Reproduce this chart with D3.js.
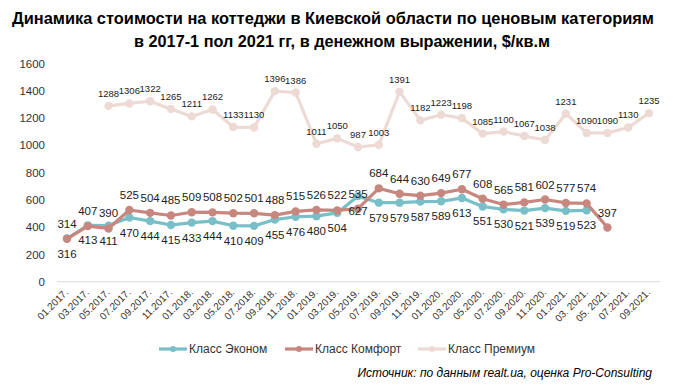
<!DOCTYPE html>
<html>
<head>
<meta charset="utf-8">
<script src="https://cdn.jsdelivr.net/npm/d3@7"></script>
<style>
  body { margin: 0; background: #fff; }
  text { font-family: "Liberation Sans", Arial, sans-serif; fill: #000; }
</style>
</head>
<body>
<script>
let categories = ["01.2017.","03.2017.","05.2017.","07.2017.","09.2017.","11.2017.",
    "01.2018.","03.2018.","05.2018.","07.2018.","09.2018.","11.2018.",
    "01.2019.","03.2019.","05.2019.","07.2019.","09.2019.","11.2019.",
    "01.2020.","03.2020.","05.2020.","07.2020.","09.2020.","11.2020.",
    "01.2021.","03. 2021.","05. 2021.","07.2021.","09.2021."];
// эконом: 01.2017 - 03.2021
let econom = [316,413,411,470,444,415,433,444,410,409,455,476,480,504,627,
    579,579,587,589,613,551,530,521,539,519,523];
// комфорт: 01.2017 - 05.2021
let comfort = [314,407,390,525,504,485,509,508,502,501,488,515,526,522,535,
    684,644,630,649,677,608,565,581,602,577,574,397];
// премиум: с 05.2017
let premiumStart = 2;
let premium = [1288,1306,1322,1265,1211,1262,1133,1130,1396,1386,1011,1050,987,1003,
    1391,1182,1223,1198,1085,1100,1067,1038,1231,1090,1090,1130,1235];
let yTicks = [0,200,400,600,800,1000,1200,1400,1600];
let seriesNames = ["Класс Эконом","Класс Комфорт","Класс Премиум"];
let colors = ["#78bfc7","#c7877f","#eedad4"];

let W = 678, H = 385;
let svg = d3.select("body").append("svg")
    .attr("width", W).attr("height", H);

let x = d3.scalePoint().domain(categories).range([67, 649]);
let y = d3.scaleLinear().domain([0, 1600]).range([281.7, 63.3]);

// заголовок
let title = svg.append("g").attr("font-weight", "bold");
title.append("text").attr("x", 12).attr("y", 24)
    .attr("font-size", 17)
    .style("font-family", "'Liberation Sans Narrow', 'Arial Narrow', 'Liberation Sans', sans-serif")
    .attr("textLength", 642).attr("lengthAdjust", "spacingAndGlyphs")
    .text("Динамика стоимости на коттеджи в Киевской области по ценовым категориям");
title.append("text").attr("x", 134).attr("y", 47)
    .attr("font-size", 17)
    .style("font-family", "'Liberation Sans Narrow', 'Arial Narrow', 'Liberation Sans', sans-serif")
    .attr("textLength", 416).attr("lengthAdjust", "spacingAndGlyphs")
    .text("в 2017-1 пол 2021 гг, в денежном выражении, $/кв.м");

// ось Y
svg.append("g").selectAll("text")
    .data(yTicks).enter().append("text")
    .attr("x", 45).attr("y", d => y(d) + 4.2)
    .attr("text-anchor", "end")
    .attr("font-size", 11.5)
    .style("fill", "#333")
    .text(d => d);

svg.append("line")
    .attr("x1", 57).attr("x2", 660)
    .attr("y1", y(0)).attr("y2", y(0))
    .attr("stroke", "#d9d9d9").attr("stroke-width", 1);

// ось X
svg.append("g").selectAll("text")
    .data(categories).enter().append("text")
    .attr("transform", d => "translate(" + (x(d) + 2) + ",293) rotate(-45)")
    .attr("text-anchor", "end")
    .attr("font-size", 10)
    .style("fill", "#333")
    .text(d => d);

let series = [
    {name: seriesNames[2], color: colors[2], start: premiumStart, values: premium, dy: -9, fs: 9.5},
    {name: seriesNames[0], color: colors[0], start: 0, values: econom, dy: 19, fs: 11.5},
    {name: seriesNames[1], color: colors[1], start: 0, values: comfort, dy: -11, fs: 11.5}
];

let line = d3.line()
    .x(d => x(categories[d.i]))
    .y(d => y(d.v));

series.forEach(function (s) {
    let pts = s.values.map((v, k) => ({i: s.start + k, v: v}));
    let g = svg.append("g");
    g.append("path")
        .attr("d", line(pts))
        .attr("fill", "none")
        .attr("stroke", s.color)
        .attr("stroke-width", 3.2)
        .attr("stroke-linejoin", "round");
    g.selectAll("circle").data(pts).enter().append("circle")
        .attr("cx", d => x(categories[d.i]))
        .attr("cy", d => y(d.v))
        .attr("r", 4.2)
        .attr("fill", s.color);
    s.pts = pts;
});

series.forEach(function (s) {
    svg.append("g").selectAll("text")
        .data(s.pts).enter().append("text")
        .attr("x", d => x(categories[d.i]))
        .attr("y", d => y(d.v) + s.dy)
        .attr("text-anchor", "middle")
        .attr("font-size", s.fs)
        .style("fill", "#222")
        .text(d => d.v);
});

// легенда
let legendX = [159, 285, 418];
let legend = svg.append("g");
[0, 1, 2].forEach(function (k) {
    let lx = legendX[k];
    legend.append("line")
        .attr("x1", lx).attr("x2", lx + 28)
        .attr("y1", 349).attr("y2", 349)
        .attr("stroke", colors[k]).attr("stroke-width", 3.2);
    legend.append("circle")
        .attr("cx", lx + 14).attr("cy", 349).attr("r", 3)
        .attr("fill", colors[k]);
    legend.append("text")
        .attr("x", lx + 30).attr("y", 353)
        .attr("font-size", 12)
        .style("fill", "#333")
        .text(seriesNames[k]);
});

svg.append("text")
    .attr("x", 652).attr("y", 377)
    .attr("text-anchor", "end")
    .attr("font-size", 12)
    .attr("font-style", "italic")
    .text("Источник: по данным realt.ua, оценка Pro-Consulting");
</script>
</body>
</html>
